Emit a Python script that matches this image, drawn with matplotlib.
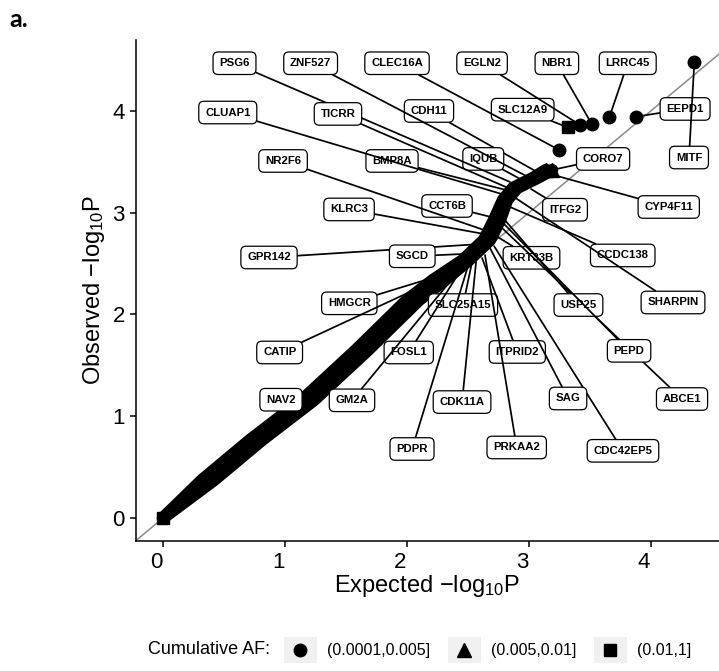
import numpy as np
import matplotlib
matplotlib.use("Agg")
import matplotlib.pyplot as plt
from matplotlib.legend_handler import HandlerBase
from matplotlib.patches import Rectangle
from matplotlib.lines import Line2D
from matplotlib.transforms import ScaledTranslation
from matplotlib import font_manager

# ---------------- data ----------------
# dense QQ ribbon: for each observed level, left-most and right-most expected value of the cloud
band_obs = [0.0, 0.373, 0.766, 1.159, 1.650, 2.141, 2.338, 2.534, 2.731, 2.927, 3.124, 3.242, 3.340, 3.418]
band_exp_left = [0.0, 0.320, 0.713, 1.139, 1.582, 2.000, 2.213, 2.459, 2.631, 2.713, 2.787, 2.869, 3.033, 3.139]
band_exp_right = [0.0, 0.418, 0.811, 1.238, 1.680, 2.098, 2.311, 2.508, 2.680, 2.762, 2.820, 2.902, 3.066, 3.189]

# stand-alone points
circ_exp = [3.248, 3.418, 3.514, 3.658, 3.877, 4.355]
circ_obs = [3.615, 3.861, 3.870, 3.936, 3.942, 4.482]
tri_exp = [3.139, 3.186]
tri_obs = [3.414, 3.418]
sq_exp = [0.0, 3.320]
sq_obs = [0.0, 3.836]

# labelled genes: point (expected, observed) and label centre
gene_names = ["SLC25A15", "CDH11", "KRT33B", "ITPRID2", "SLC12A9", "BMP8A", "CCT6B", "IQUB",
              "ABCE1", "CDC42EP5", "PSG6", "ZNF527", "CLEC16A", "EGLN2", "NBR1", "LRRC45",
              "CLUAP1", "TICRR", "EEPD1", "NR2F6", "CORO7", "MITF", "KLRC3", "ITFG2",
              "CYP4F11", "GPR142", "SGCD", "CCDC138", "HMGCR", "USP25", "SHARPIN", "CATIP",
              "FOSL1", "PEPD", "NAV2", "GM2A", "CDK11A", "SAG", "PDPR", "PRKAA2"]
gene_exp = [2.533, 3.066, 2.730, 2.615, 3.320, 2.811, 2.721, 2.943,
            2.762, 2.713, 2.844, 3.008, 3.248, 3.418, 3.514, 3.658,
            2.803, 2.828, 3.877, 2.680, 3.186, 4.355, 2.631, 3.016,
            3.221, 2.533, 2.451, 2.844, 2.311, 2.787, 2.877, 2.270,
            2.451, 2.779, 1.190, 2.418, 2.566, 2.680, 2.500, 2.639]
gene_obs = [2.515, 3.399, 2.770, 2.554, 3.836, 3.222, 2.947, 3.320,
            2.868, 2.672, 3.301, 3.340, 3.615, 3.861, 3.870, 3.936,
            3.173, 3.242, 3.942, 2.809, 3.418, 4.482, 2.790, 3.232,
            3.363, 2.686, 2.593, 3.055, 2.397, 2.947, 3.153, 2.358,
            2.456, 2.908, 1.200, 2.417, 2.515, 2.652, 2.475, 2.583]
label_x = [2.459, 2.180, 3.020, 2.904, 2.948, 1.877, 2.328, 2.625,
           4.254, 3.770, 0.586, 1.210, 1.918, 2.615, 3.228, 3.809,
           0.531, 1.434, 4.279, 0.984, 3.607, 4.311, 1.525, 3.295,
           4.145, 0.869, 2.043, 3.768, 1.527, 3.405, 4.180, 0.956,
           2.014, 3.820, 0.967, 1.549, 2.451, 3.320, 2.041, 2.899]
label_y = [2.092, 3.998, 2.556, 1.631, 4.011, 3.507, 3.065, 3.527,
           1.169, 0.660, 4.467, 4.467, 4.467, 4.467, 4.467, 4.467,
           3.983, 3.969, 4.018, 3.507, 3.527, 3.541, 3.031, 3.028,
           3.055, 2.559, 2.571, 2.579, 2.109, 2.092, 2.117, 1.626,
           1.626, 1.642, 1.162, 1.156, 1.139, 1.174, 0.678, 0.693]

af_classes = ["(0.0001,0.005]", "(0.005,0.01]", "(0.01,1]"]
af_markers = ["o", "^", "s"]

xticks = [0, 1, 2, 3, 4]
yticks = [0, 1, 2, 3, 4]


def has_font(name):
    try:
        font_manager.findfont(name, fallback_to_default=False)
        return True
    except Exception:
        return False


axis_font = "Liberation Sans" if has_font("Liberation Sans") else "DejaVu Sans"
label_font = axis_font
panel_font = "Lato" if has_font("Lato") else "DejaVu Sans"

plt.rcParams["font.family"] = [axis_font, "DejaVu Sans"]
plt.rcParams["mathtext.fontset"] = "custom"
plt.rcParams["mathtext.rm"] = axis_font

fig = plt.figure(figsize=(7.19, 6.71), dpi=100)
ax = fig.add_axes([0.1892, 0.1937, 0.8108, 0.7474])
ax.set_xlim(-0.221, 4.557)
ax.set_ylim(-0.226, 4.700)

# diagonal y = x
lims = [-0.3, 5.0]
ax.plot(lims, lims, color="#8a8a8a", lw=1.1, zorder=1)

# dense ribbon of overlapping points
ax.fill_betweenx(band_obs, band_exp_left, band_exp_right, color="black", lw=0, zorder=2)
for xs in (band_exp_left, band_exp_right):
    ax.plot(xs, band_obs, color="black", lw=9, solid_capstyle="round",
            solid_joinstyle="round", zorder=2)

ms = 9
ax.plot(circ_exp, circ_obs, ls="none", marker="o", ms=ms, color="black", zorder=3)
ax.plot(tri_exp, tri_obs, ls="none", marker="^", ms=ms + 1, color="black", zorder=3)
ax.plot(sq_exp, sq_obs, ls="none", marker="s", ms=ms, color="black", zorder=3)

# repel-style labels
for i, (name, gx, gy, lx, ly) in enumerate(zip(gene_names, gene_exp, gene_obs, label_x, label_y)):
    ax.annotate(name, xy=(gx, gy), xytext=(lx, ly), ha="center", va="center",
                fontsize=8.2, fontweight="bold", family=label_font,
                bbox=dict(boxstyle="round,pad=0.55,rounding_size=0.45", fc="white",
                          ec="black", lw=0.9),
                arrowprops=dict(arrowstyle="-", color="black", lw=1.25,
                                shrinkA=0, shrinkB=0),
                zorder=5 + i * 0.01, annotation_clip=False)

for s in ("top", "right"):
    ax.spines[s].set_visible(False)
for s in ("left", "bottom"):
    ax.spines[s].set_linewidth(1.1)
ax.set_xticks(xticks)
ax.set_yticks(yticks)
ax.tick_params(direction="out", length=4, width=1.1, labelsize=16, pad=4, colors="black")
shift = ScaledTranslation(-7 / 100, 0, fig.dpi_scale_trans)
for lab in ax.get_xticklabels():
    lab.set_transform(lab.get_transform() + shift)
ax.set_xlabel(r"Expected $\mathregular{-log_{10}P}$", fontsize=17, labelpad=0)
ax.set_ylabel(r"Observed $\mathregular{-log_{10}P}$", fontsize=17, labelpad=4)

# panel tag
fig.text(9 / 719, 1 - 8 / 671, "a.", fontsize=18, fontweight="bold", family=panel_font,
         ha="left", va="top")


# legend with grey key backgrounds
class KeyHandler(HandlerBase):
    def create_artists(self, legend, orig_handle, xdescent, ydescent, width, height,
                       fontsize, trans):
        rect = Rectangle((-xdescent, -ydescent), width, height, facecolor="#f0f0f0",
                         edgecolor="none", transform=trans)
        mk = Line2D([-xdescent + width / 2], [-ydescent + height / 2],
                    marker=orig_handle.get_marker(), ms=orig_handle.get_markersize(),
                    color="black", ls="none", transform=trans)
        return [rect, mk]


handles = [Line2D([], [], marker=m, ms=ms if m != "^" else ms + 1, color="black", ls="none")
           for m in af_markers]
leg = fig.legend(handles, af_classes, loc="center left",
                 bbox_to_anchor=(284 / 719, 1 - 650 / 671), ncol=3, frameon=False,
                 fontsize=11.5, handlelength=2.05, handleheight=2.1, handletextpad=0.65,
                 columnspacing=1.1, borderpad=0, borderaxespad=0,
                 handler_map={Line2D: KeyHandler()})
fig.text(148 / 719, 1 - 650 / 671, "Cumulative AF:", fontsize=13, ha="left", va="center")

fig.savefig("out.png", dpi=100)
